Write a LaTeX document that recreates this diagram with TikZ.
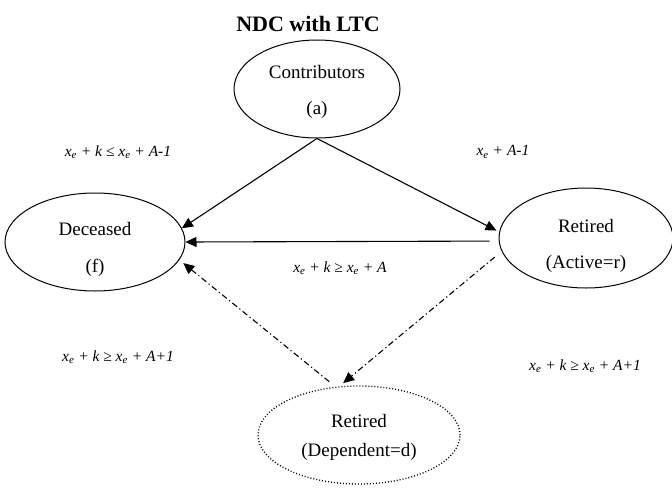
\documentclass[tikz,border=0pt]{standalone}
\usepackage{fontspec}
\setmainfont{Liberation Serif}
\usetikzlibrary{shapes.geometric,arrows.meta}
\newcommand\myxe{\textit{x}\textsubscript{\textit{e}}}
\begin{document}
\begin{tikzpicture}[x=1pt,y=-1pt,
  state/.style={ellipse,draw,line width=1pt,inner sep=0pt},
  txt/.style={font=\fontsize{19}{22}\selectfont,inner sep=0pt},
  cond/.style={font=\fontsize{15.5}{18}\selectfont\itshape,inner sep=0pt},
  arr/.style={line width=1.1pt,-{Triangle[length=11pt,width=10pt]}},
  dd/.style={arr,dash pattern=on 6pt off 3pt on 1.2pt off 3pt}]
\useasboundingbox (0,0) rectangle (672,488);
\node[font=\fontsize{22}{26}\selectfont\bfseries,inner sep=0pt] (title) at (308,24) {NDC with LTC};
\node[state,minimum width=166pt,minimum height=98pt] (a) at (317,89) {};
\node[state,minimum width=180pt,minimum height=98pt] (f) at (95,242) {};
\node[state,minimum width=174pt,minimum height=100pt] (r) at (586,238) {};
\node[state,dotted,line width=1.3pt,minimum width=202pt,minimum height=98pt] (d) at (359,435) {};
\node[txt] (ta1) at (317,72) {Contributors};
\node[txt] (ta2) at (317,110) {(a)};
\node[txt] (tf1) at (95,229) {Deceased};
\node[txt] (tf2) at (95,268) {(f)};
\node[txt] (tr1) at (586,226) {Retired};
\node[txt] (tr2) at (586,264) {(Active=r)};
\node[txt] (td1) at (359,421) {Retired};
\node[txt] (td2) at (359,452) {(Dependent=d)};
\node[cond] (c1) at (118,152) {\myxe{} + k ≤ \myxe{} + A-1};
\node[cond] (c2) at (503,152) {\myxe{} + A-1};
\node[cond] (c3) at (340,268) {\myxe{} + k ≥ \myxe{} + A};
\node[cond] (c4) at (118,357) {\myxe{} + k ≥ \myxe{} + A+1};
\node[cond] (c5) at (585,366) {\myxe{} + k ≥ \myxe{} + A+1};
\draw[arr] (a.south) -- (f.9);
\draw[arr,shorten >=3pt] (a.south) -- (r.176);
\draw[arr,shorten <=9pt] (r.182) -- (f.0);
\draw[dd,shorten <=9pt,shorten >=5pt] (r.189) -- (d.112);
\draw[dd,shorten <=8pt,shorten >=5pt] (d.116) -- (f.-12);
\end{tikzpicture}
\end{document}
